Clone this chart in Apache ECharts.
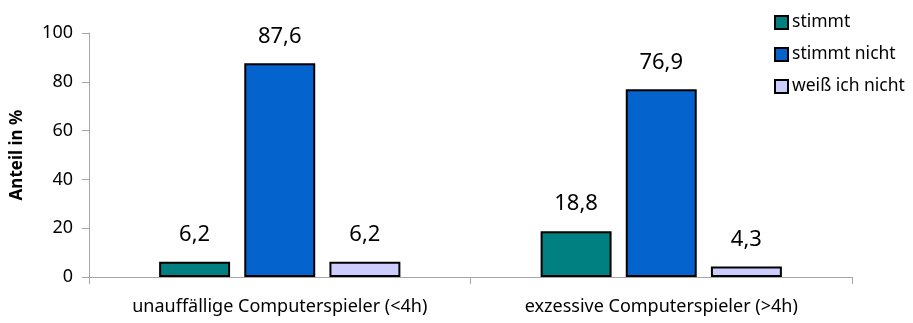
<!DOCTYPE html>
<html>
<head>
<meta charset="utf-8">
<script src="https://cdn.jsdelivr.net/npm/echarts@6/dist/echarts.min.js"></script>
<style>
  html, body { margin: 0; padding: 0; background: #fff; }
  #chart { width: 913px; height: 323px; }
</style>
</head>
<body>
<div id="chart"></div>
<script>
// Survey answers by player group (percent)
const categories = ['unauffällige Computerspieler (<4h)', 'exzessive Computerspieler (>4h)'];
const stimmt = [6.2, 18.8];
const stimmtNicht = [87.6, 76.9];
const weissIchNicht = [6.2, 4.3];
const yTicks = [0, 20, 40, 60, 80, 100];

const FONT = '"Noto Sans", sans-serif';
const fmt = p => String(p.value).replace('.', ',');

function barSeries(name, data, color) {
  return {
    name: name,
    type: 'bar',
    data: data,
    barWidth: '18.6%',
    barGap: '20%',
    itemStyle: { color: color, borderColor: '#000', borderWidth: 2 },
    label: {
      show: true,
      position: 'top',
      distance: 16,
      formatter: fmt,
      fontFamily: FONT,
      fontSize: 22,
      color: '#000'
    }
  };
}

const chart = echarts.init(document.getElementById('chart'));
chart.setOption({
  animation: false,
  backgroundColor: '#fff',
  grid: { left: 89, right: 61, top: 33, bottom: 46, containLabel: false },
  legend: {
    orient: 'vertical',
    left: 769,
    top: 8,
    padding: 5,
    itemWidth: 13,
    itemHeight: 13,
    itemGap: 13,
    icon: 'rect',
    textStyle: { fontFamily: FONT, fontSize: 17.5, color: '#000', padding: [0, 0, 0, -1], lineHeight: 19 },
    data: ['stimmt', 'stimmt nicht', 'weiß ich nicht']
  },
  xAxis: {
    type: 'category',
    data: categories,
    boundaryGap: true,
    axisLine: { lineStyle: { color: '#A6A6A6', width: 1 } },
    axisTick: { show: true, length: 7, alignWithLabel: false, lineStyle: { color: '#A6A6A6' } },
    axisLabel: { interval: 0, hideOverlap: false, fontFamily: FONT, fontSize: 18, color: '#000', margin: 21 }
  },
  yAxis: {
    type: 'value',
    min: yTicks[0],
    max: yTicks[yTicks.length - 1],
    interval: yTicks[1] - yTicks[0],
    name: 'Anteil in %',
    nameLocation: 'middle',
    nameGap: 63,
    nameTextStyle: { fontFamily: FONT, fontSize: 17, fontWeight: 'bold', color: '#000' },
    axisLine: { show: true, lineStyle: { color: '#A6A6A6', width: 1 } },
    axisTick: { show: true, length: 7, lineStyle: { color: '#A6A6A6' } },
    splitLine: { show: false },
    axisLabel: { fontFamily: FONT, fontSize: 18, color: '#000', margin: 16 }
  },
  series: [
    barSeries('stimmt', stimmt, '#008080'),
    barSeries('stimmt nicht', stimmtNicht, '#0563CE'),
    barSeries('weiß ich nicht', weissIchNicht, '#CCCCFF')
  ]
});
</script>
</body>
</html>
